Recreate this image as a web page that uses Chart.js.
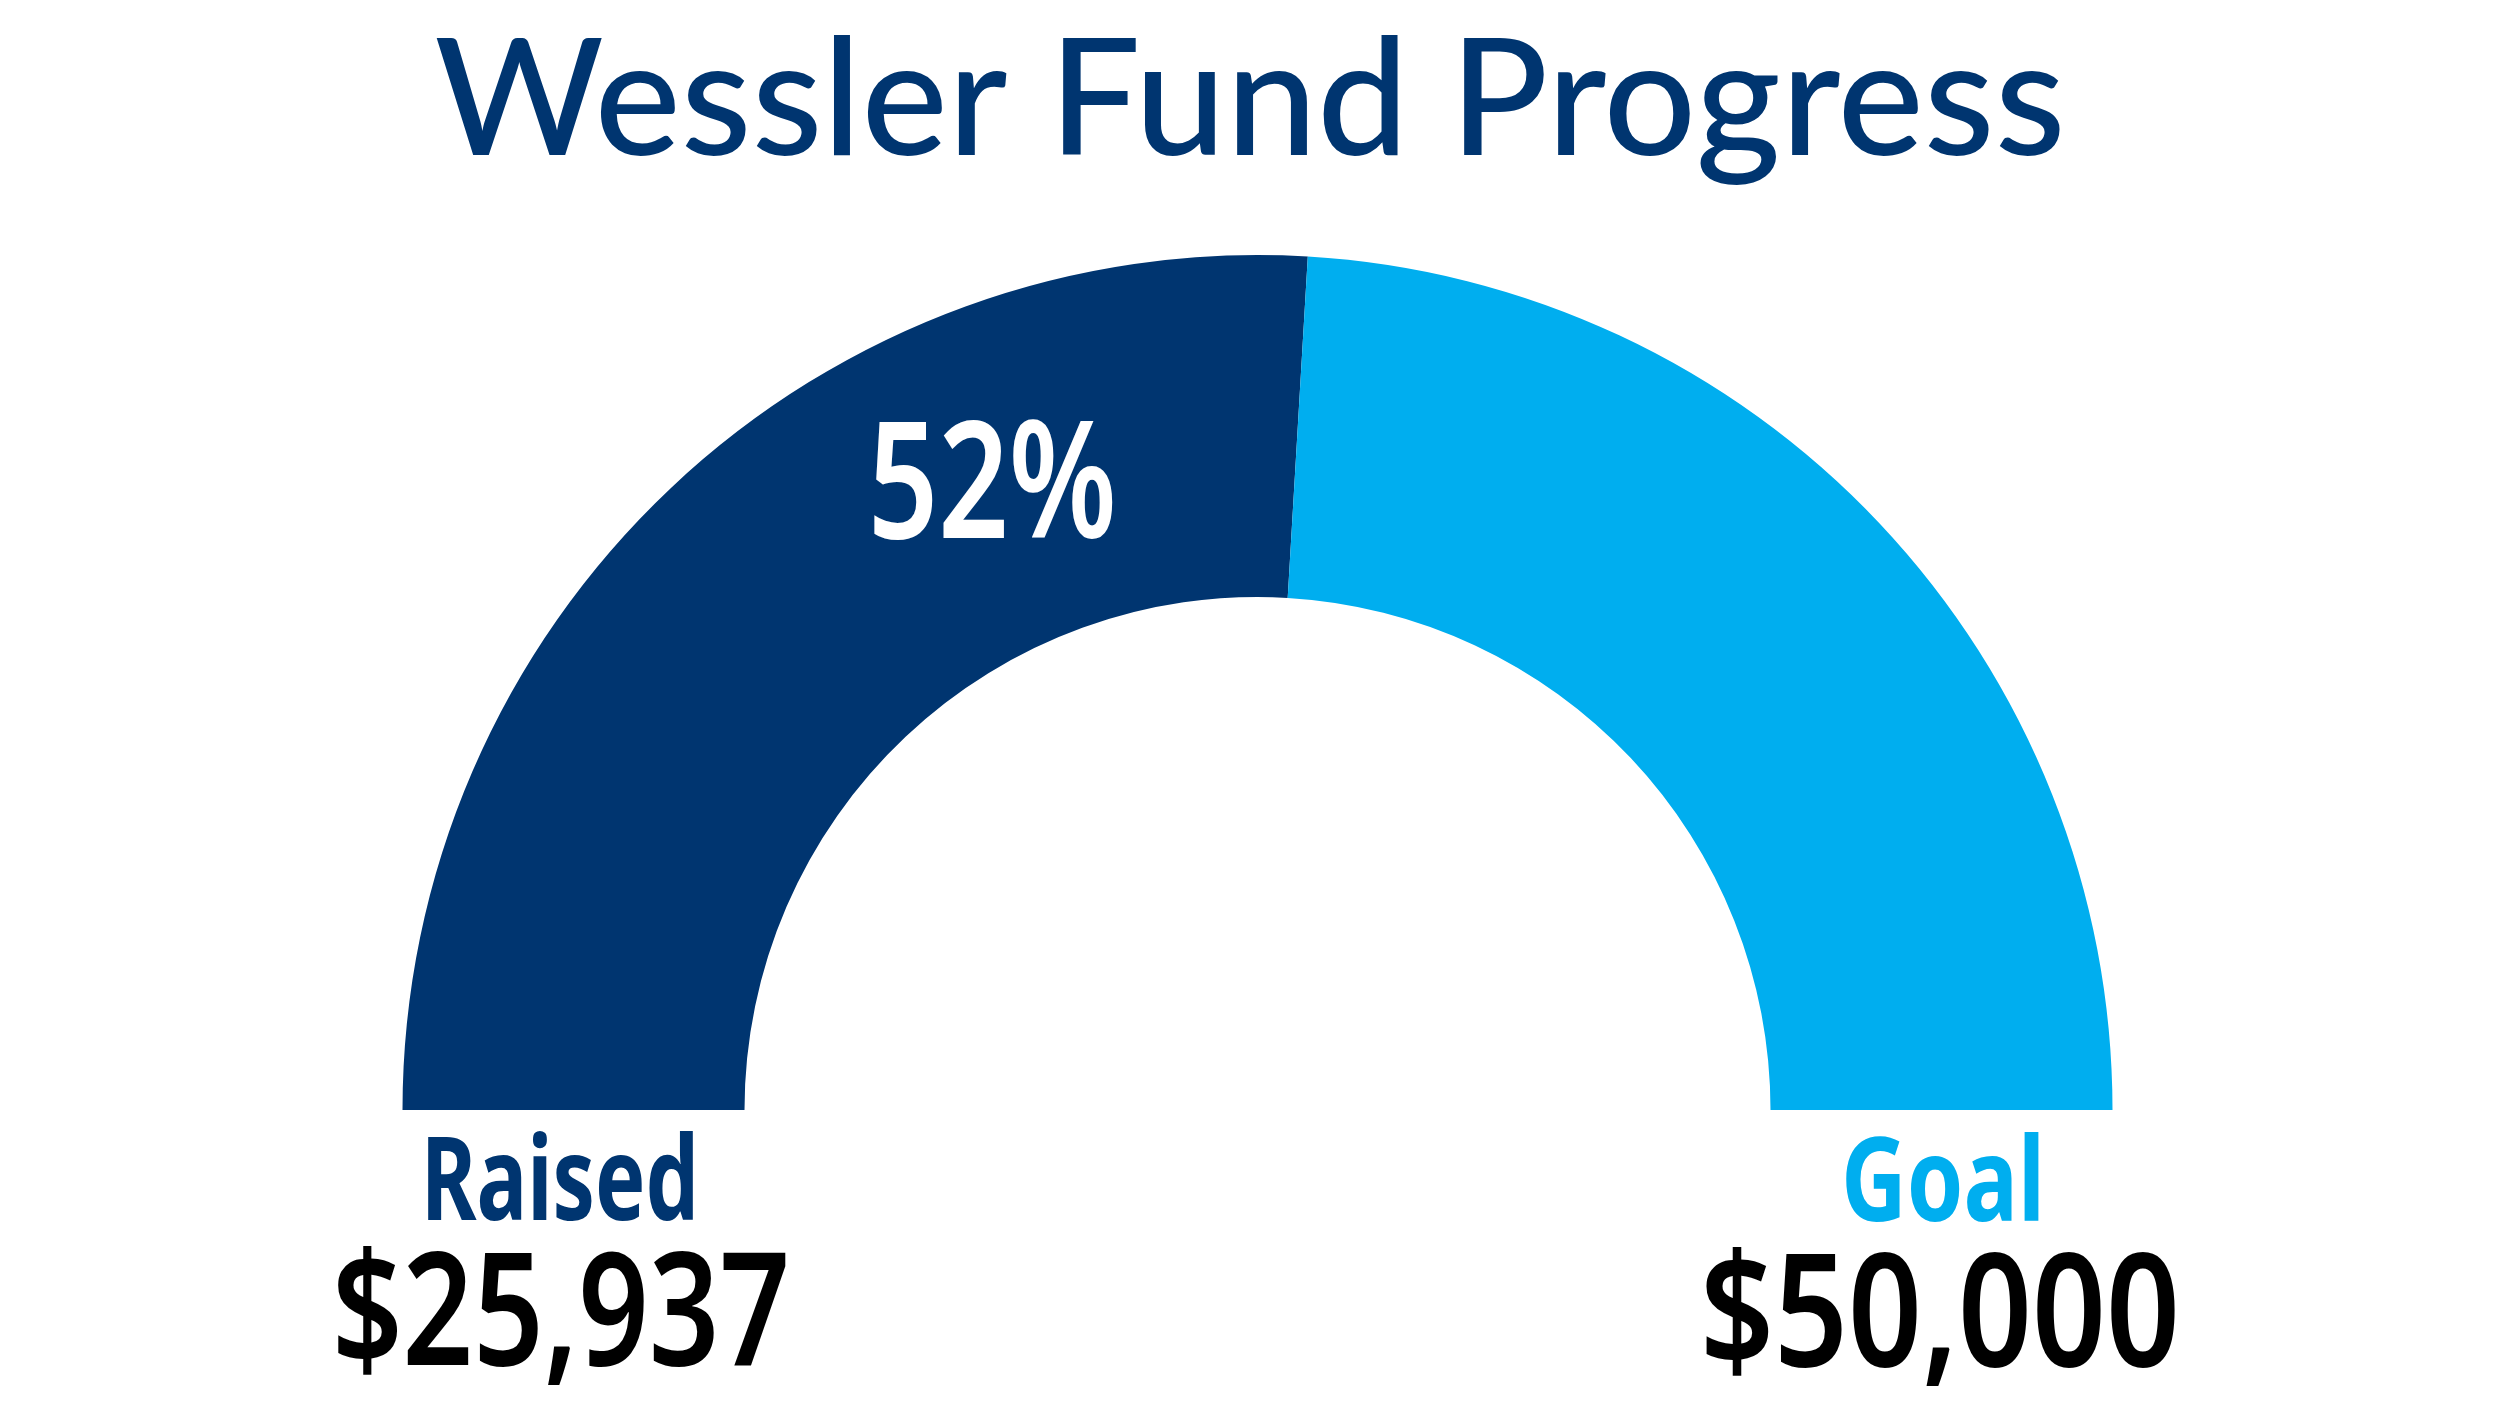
<!DOCTYPE html>
<html>
<head>
<meta charset="utf-8">
<script src="https://cdn.jsdelivr.net/npm/chart.js@4.4.1/dist/chart.umd.min.js"></script>
<style>
  html, body { margin: 0; padding: 0; background: #fff; }
  #wrap { width: 2500px; height: 1406px; }
</style>
</head>
<body>
<div id="wrap"><canvas id="gauge"></canvas></div>
<script>
// dados do gráfico
const chartTitle = 'Wessler Fund Progress';
const labels = ['Raised', 'Goal'];
const amounts = [25937, 50000];
const colors = ['#003570', '#00AEEF'];

const raised = amounts[0];
const goal = amounts[1];
const percent = Math.round(raised / goal * 100);

function money(v){
  return '$' + v.toLocaleString('en-US');
}

// desenha texto centrado, esticado/comprimido para a largura pedida
function drawFit(ctx, text, x, y, font, color, width, stretch){
  ctx.save();
  ctx.font = font;
  ctx.fontStretch = stretch || 'normal';
  ctx.fillStyle = color;
  ctx.textAlign = 'center';
  ctx.textBaseline = 'alphabetic';
  const w = ctx.measureText(text).width;
  ctx.translate(x, y);
  ctx.scale(width / w, 1);
  ctx.fillText(text, 0, 0);
  ctx.restore();
}

const textPlugin = {
  id: 'textos',
  afterDraw(chart){
    const ctx = chart.ctx;
    const arc = chart.getDatasetMeta(0).data[0];
    const cx = arc.x, cy = arc.y;
    const rMid = (arc.innerRadius + arc.outerRadius) / 2;

    // título
    drawFit(ctx, chartTitle, 1250, 155, '500 162px Lato', '#003570', 1631);

    // percentual dentro do arco
    const ang = 113 * Math.PI / 180;
    const px = cx + Math.cos(ang) * rMid;
    const py = cy - Math.sin(ang) * rMid;
    const f = '"Noto Sans"';
    drawFit(ctx, percent + '%', px + 2, py + 58, '600 162px ' + f, '#ffffff', 249, 'condensed');

    // legendas embaixo
    drawFit(ctx, labels[0], 560, 1220, '700 116px ' + f, colors[0], 278, 'condensed');
    drawFit(ctx, money(raised), 561, 1365, '600 157px ' + f, '#000000', 458, 'condensed');
    drawFit(ctx, labels[1], 1943, 1221, '700 116px ' + f, colors[1], 204, 'condensed');
    drawFit(ctx, money(goal), 1940, 1366, '600 157px ' + f, '#000000', 480, 'condensed');
  }
};

const ctx = document.getElementById('gauge').getContext('2d');

const data = {
  labels: labels,
  datasets: [{
    data: [raised, goal - raised],
    backgroundColor: colors,
    borderWidth: 0
  }]
};

const options = {
  responsive: true,
  maintainAspectRatio: false,
  animation: false,
  rotation: -90,
  circumference: 180,
  cutout: '60%',
  layout: {
    padding: { left: 402, right: 387, top: 255, bottom: 296 }
  },
  plugins: {
    legend: { display: false },
    tooltip: { enabled: false }
  }
};

const chart = new Chart(ctx, {
  type: 'doughnut',
  data: data,
  options: options,
  plugins: [textPlugin]
});
</script>
</body>
</html>
